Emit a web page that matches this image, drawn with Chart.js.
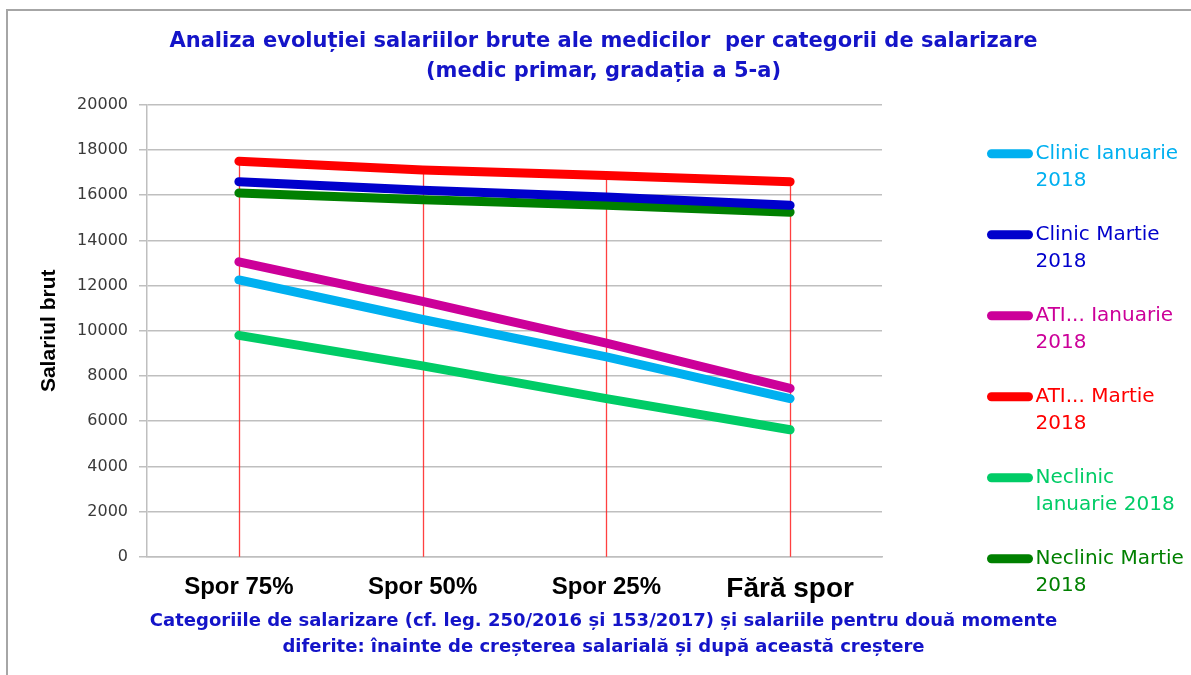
<!DOCTYPE html>
<html>
<head>
<meta charset="utf-8">
<script src="https://cdn.jsdelivr.net/npm/chart.js@4.4.0/dist/chart.umd.min.js"></script>
<style>
  html, body { margin: 0; background: #fff; }
</style>
</head>
<body>
<canvas id="line-chart" width="1191" height="675"></canvas>
<script>
// categories + series
const categories = ["Spor 75%", "Spor 50%", "Spor 25%", "Fără spor"];
const clinicIanuarie = [12250, 10500, 8850, 7000];
const clinicMartie = [16600, 16220, 15920, 15550];
const atiIanuarie = [13050, 11300, 9450, 7450];
const atiMartie = [17500, 17120, 16870, 16600];
const neclinicIanuarie = [9800, 8450, 7000, 5620];
const neclinicMartie = [16100, 15800, 15550, 15250];

const seriesNames = [
  ["Clinic Ianuarie", "2018"],
  ["Clinic Martie", "2018"],
  ["ATI... Ianuarie", "2018"],
  ["ATI... Martie", "2018"],
  ["Neclinic", "Ianuarie 2018"],
  ["Neclinic Martie", "2018"]
];
const seriesColors = ["#00b0f0", "#0000cc", "#cc0099", "#ff0000", "#00cc66", "#008000"];

const titleLines = [
  "Analiza evoluției salariilor brute ale medicilor  per categorii de salarizare",
  "(medic primar, gradația a 5-a)"
];
const captionLines = [
  "Categoriile de salarizare (cf. leg. 250/2016 și 153/2017) și salariile pentru două momente",
  "diferite: înainte de creșterea salarială și după această creștere"
];
const yTitle = "Salariul brut";
const yMin = 0, yMax = 20000, yStep = 2000;

const blue = "#1414c8";

// grey frame round the whole picture
const framePlugin = {
  id: "frame",
  beforeDraw(chart) {
    const ctx = chart.ctx;
    ctx.save();
    ctx.fillStyle = "#fff";
    ctx.fillRect(0, 0, chart.width, chart.height);
    ctx.strokeStyle = "#a6a6a6";
    ctx.lineWidth = 2;
    ctx.strokeRect(7, 10, chart.width + 20, chart.height + 20);
    ctx.restore();
  }
};

// excel style drop lines: from the highest point down to the axis
const dropLines = {
  id: "dropLines",
  beforeDatasetsDraw(chart) {
    const { ctx, chartArea, scales: { x, y } } = chart;
    ctx.save();
    ctx.strokeStyle = "rgba(255,30,30,0.85)";
    ctx.lineWidth = 1.3;
    categories.forEach((c, i) => {
      const top = Math.max(...chart.data.datasets.map(d => d.data[i]));
      const px = Math.round(x.getPixelForValue(i)) + 0.5;
      ctx.beginPath();
      ctx.moveTo(px, y.getPixelForValue(top));
      ctx.lineTo(px, chartArea.bottom);
      ctx.stroke();
    });
    ctx.restore();
  }
};

// legend on the right, two lines of text per item
const sideLegend = {
  id: "sideLegend",
  afterDraw(chart) {
    const { ctx, chartArea } = chart;
    const x0 = chartArea.right + 109.5;
    const y0 = chartArea.top + 49;
    ctx.save();
    ctx.font = '20px "DejaVu Sans"';
    ctx.textBaseline = "middle";
    ctx.textAlign = "left";
    chart.data.datasets.forEach((ds, i) => {
      const yy = y0 + i * 81;
      ctx.strokeStyle = ds.borderColor;
      ctx.lineWidth = 9;
      ctx.lineCap = "round";
      ctx.beginPath();
      ctx.moveTo(x0, yy);
      ctx.lineTo(x0 + 37, yy);
      ctx.stroke();
      ctx.fillStyle = ds.borderColor;
      seriesNames[i].forEach((t, k) => ctx.fillText(t, x0 + 44, yy + k * 27));
    });
    ctx.restore();
  }
};

const seriesData = [clinicIanuarie, clinicMartie, atiIanuarie, atiMartie, neclinicIanuarie, neclinicMartie];

const config = {
  type: "line",
  data: {
    labels: categories,
    datasets: seriesData.map((d, i) => ({
      label: seriesNames[i].join(" "),
      data: d,
      borderColor: seriesColors[i],
      backgroundColor: seriesColors[i],
      borderWidth: 9,
      borderCapStyle: "round",
      borderJoinStyle: "round",
      pointRadius: 0,
      fill: false,
      tension: 0
    }))
  },
  options: {
    responsive: false,
    animation: false,
    devicePixelRatio: 1,
    layout: { padding: { left: 16, right: 0, top: 0, bottom: 0 } },
    plugins: {
      legend: { display: false },
      tooltip: { enabled: false },
      title: {
        display: true,
        text: titleLines,
        color: blue,
        font: { family: "DejaVu Sans", size: 21, weight: "bold", lineHeight: 1.4 },
        padding: { top: 27, bottom: 19 }
      },
      subtitle: {
        display: true,
        position: "bottom",
        text: captionLines,
        color: blue,
        font: { family: "DejaVu Sans", size: 18, weight: "bold", lineHeight: 1.45 },
        padding: { top: 0, bottom: 15 }
      }
    },
    scales: {
      x: {
        type: "category",
        offset: true,
        afterFit(scale) { scale.height = 51; },
        grid: { display: false },
        border: { display: true, color: "#bfbfbf", width: 1.5 },
        ticks: {
          color: "#000",
          padding: 8,
          maxRotation: 0,
          autoSkip: false,
          font: (ctx) => ({
            family: "Liberation Sans",
            weight: "bold",
            size: ctx.index === 3 ? 28 : 24
          })
        }
      },
      y: {
        min: yMin,
        max: yMax,
        afterFit(scale) { scale.width = 131; },
        grid: { color: "#bfbfbf", lineWidth: 1.5, tickLength: 8, drawTicks: true },
        border: { display: true, color: "#bfbfbf", width: 1.5 },
        ticks: {
          stepSize: yStep,
          color: "#3a3a3a",
          padding: 11,
          font: { family: "DejaVu Sans", size: 16 },
          callback: v => String(v)
        },
        title: {
          display: true,
          text: yTitle,
          color: "#000",
          font: { family: "Liberation Sans", size: 21, weight: "bold" },
          padding: { top: 21, bottom: 0 }
        }
      },
      // empty box on the right that keeps room for the legend
      legendSpace: {
        type: "linear",
        position: "right",
        afterFit(scale) { scale.width = 309; },
        grid: { display: false },
        border: { display: false },
        ticks: { display: false }
      }
    }
  },
  plugins: [framePlugin, dropLines, sideLegend]
};

const ctx = document.getElementById("line-chart").getContext("2d");
window.myLine = new Chart(ctx, config);
</script>
</body>
</html>
